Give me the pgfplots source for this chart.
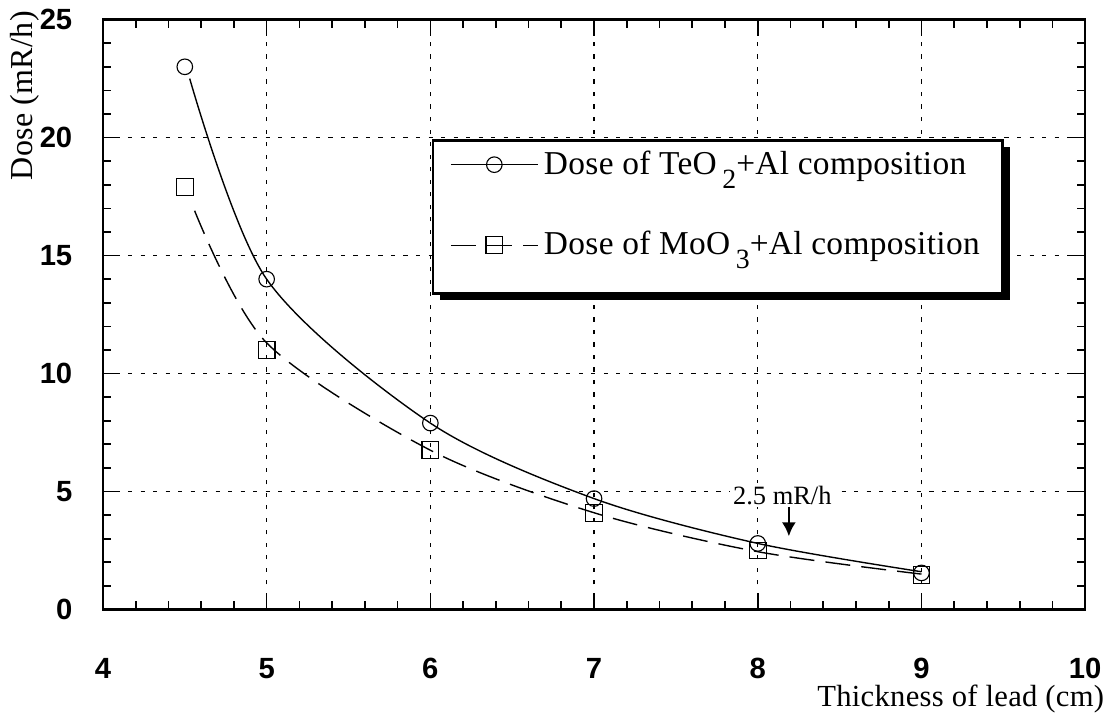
\documentclass[border=0pt]{standalone}
\usepackage{fontspec}
\usepackage{pgfplots}
\pgfplotsset{compat=1.18}
\usetikzlibrary{arrows.meta}
\setmainfont{Liberation Serif}
\newfontfamily\ticksf{Liberation Sans}
\newfontfamily\spaced[LetterSpace=1]{Liberation Serif}
\newfontfamily\labfont[LetterSpace=1]{Liberation Serif}

\begin{document}
\begin{tikzpicture}
\begin{axis}[
    scale only axis,
    width=353pt, height=212pt,
    xmin=4, xmax=10, ymin=0, ymax=25,
    xtick={4,5,...,10}, ytick={0,5,...,25},
    minor x tick num=4, minor y tick num=4,
    tick align=inside, tick pos=both,
    major tick length=6pt, minor tick length=3pt,
    axis line style={line width=0.8pt},
    every tick/.style={black, line width=0.6pt},
    grid=major,
    major grid style={black, line width=0.5pt, dash pattern=on 1.5pt off 3pt},
    /pgf/number format/assume math mode=true,
    ticklabel style={font=\ticksf\bfseries\fontsize{10.5}{12}\selectfont},
    xticklabel style={yshift=-14pt},
    yticklabel style={xshift=-7.5pt},
    xlabel={\labfont\fontsize{11}{13}\selectfont Thickness of lead (cm)},
    xlabel style={at={(rel axis cs:1,0)}, anchor=east, inner sep=0pt, xshift=7pt, yshift=-32pt},
    ylabel={\labfont\fontsize{11.5}{14}\selectfont Dose (mR/h)},
    ylabel style={at={(rel axis cs:0,1)}, anchor=south east, inner sep=0pt, xshift=3.2pt, yshift=22.6pt},
    legend image code/.code={
        \draw[mark repeat=2,mark phase=2,#1] plot coordinates {(0cm,0cm) (0.55cm,0cm) (1.1cm,0cm)};},
    legend style={name=leg, at={(rel axis cs:0.336,0.795)}, anchor=north west,
        draw=none, fill=white,
        inner xsep=6pt, inner ysep=1.5pt, row sep=15pt,
        font=\spaced\fontsize{12}{14}\selectfont,
        cells={anchor=west}},
]

% legend images
\addlegendimage{black, line width=0.4pt, mark=o, mark size=2.8pt, mark options={solid}}
\addlegendentry{Dose of TeO\,\raisebox{-0.9ex}{\fontsize{10}{10}\selectfont 2}+Al composition}
\addlegendimage{black, line width=0.4pt, dash pattern=on 9pt off 4pt, mark=square, mark size=3pt, mark options={solid}}
\addlegendentry{Dose of MoO\,\raisebox{-0.9ex}{\fontsize{10}{10}\selectfont 3}+Al composition}

% TeO2 + Al: curve and points
\addplot[black, line width=0.5pt, smooth, forget plot] coordinates {
    (4.53,22.5) (5,14) (6,7.9) (7,4.7) (8,2.8) (9,1.6)};
\addplot[black, only marks, mark=o, mark size=2.8pt, forget plot] coordinates {
    (4.5,23) (5,14) (6,7.9) (7,4.7) (8,2.8) (9,1.55)};

% MoO3 + Al: fitted curve and points
\addplot[black, line width=0.5pt, smooth, dash pattern=on 9pt off 4pt, forget plot] coordinates {
    (4.56,16.9) (5,11.3) (6,6.75) (7,4.1) (8,2.45) (9,1.5)};
\addplot[black, only marks, mark=square, mark size=3pt, forget plot] coordinates {
    (4.5,17.9) (5,11) (6,6.75) (7,4.1) (8,2.5) (9,1.45)};

% annotation
\node[font=\fontsize{9.5}{11}\selectfont, fill=white, inner sep=1pt] at (axis cs:8.15,4.85) {2.5 mR/h};
\draw[-{Latex[length=5pt,width=5pt]}, line width=0.8pt] (axis cs:8.19,4.35) -- (axis cs:8.19,3.1);
\end{axis}
% legend frame (extended below the entries) with its shadow
\coordinate (lbot) at ([yshift=-8.6pt]leg.south east);
\fill[white] ([yshift=-8.6pt]leg.south west) rectangle (leg.south east);
\draw[line width=1pt] (leg.north west) rectangle (lbot);
\fill[black] ([yshift=-8.6pt]leg.south west) ++(2.5pt,-2.5pt) rectangle ([xshift=2.5pt]lbot);
\fill[black] ([yshift=-2.5pt]leg.north east) rectangle ([xshift=2.5pt,yshift=-2.5pt]lbot);
\path (current axis.south west) ++(-37pt,-42.4pt) rectangle ++(400pt,261pt);
\end{tikzpicture}
\end{document}
